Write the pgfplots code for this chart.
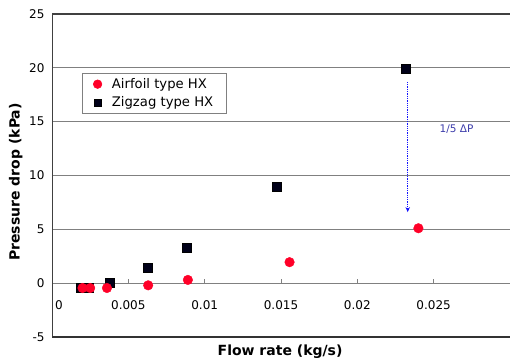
\documentclass[border=0pt]{standalone}
\usepackage{fontspec}
\setmainfont{DejaVu Sans}
\usepackage{pgfplots}
\pgfplotsset{compat=1.18}
\usetikzlibrary{arrows.meta}
\definecolor{airred}{RGB}{255,0,40}
\definecolor{zignavy}{RGB}{0,0,25}
\definecolor{gridgray}{RGB}{128,128,128}
\definecolor{bordergray}{RGB}{64,64,64}
\definecolor{annblue}{RGB}{60,60,170}
\definecolor{arrblue}{RGB}{20,20,255}
\begin{document}
\begin{tikzpicture}
\begin{axis}[
  at={(52pt,26pt)}, anchor=south west,
  scale only axis, width=458pt, height=323pt,
  xmin=0, xmax=0.03, ymin=-5, ymax=25,
  axis x line=middle, axis y line=left,
  axis line style={-, draw=gridgray, line width=0.8pt},
  y axis line style={draw=bordergray, line width=0.8pt},
  xtick={0.005,0.01,0.015,0.02,0.025},
  xticklabels={0.005,0.01,0.015,0.02,0.025},
  extra x ticks={0},
  extra x tick labels={0},
  extra x tick style={tick label style={xshift=7pt}, major tick length=0pt},
  ytick={-5,0,5,10,15,20,25},
  /pgf/number format/assume math mode=true,
  scaled x ticks=false,
  xtick align=inside,
  major tick length=4pt,
  x tick style={draw=gridgray, line width=0.8pt},
  y tick style={draw=none},
  ymajorgrids,
  y grid style={draw=gridgray, line width=0.8pt},
  xticklabel style={font=\fontsize{12}{14}\selectfont, yshift=-14pt, anchor=north},
  yticklabel style={font=\fontsize{12}{14}\selectfont, xshift=-2pt},
  xlabel={Flow rate (kg/s)},
  ylabel={Pressure drop (kPa)},
  label style={font=\fontsize{14}{16}\selectfont\bfseries},
  xlabel style={at={(axis description cs:0.498,-0.046)}, anchor=center},
  ylabel style={at={(axis description cs:-0.079,0.48)}, anchor=center, rotate=0},
  legend style={at={(axis description cs:0.0655,0.817)}, anchor=north west,
    draw=gridgray, line width=0.6pt, font=\fontsize{13.2}{15}\selectfont,
    inner xsep=11pt, inner ysep=3pt, row sep=3pt,
    /tikz/every odd column/.append style={column sep=8pt}},
  legend image code/.code={\draw[#1] plot coordinates {(0.25cm,0cm)};},
  legend image post style={mark size=4.3pt},
  legend cell align=left,
  reverse legend,
  clip=false,
]
\addplot[only marks, mark=square*, mark size=4.5pt, draw=black, fill=zignavy,
  legend image post style={mark size=3.7pt}]
  coordinates {(0.0019,-0.45) (0.0024,-0.45) (0.0038,0.0) (0.00627,1.4) (0.0088,3.25) (0.0147,9.0) (0.0232,19.9)};
\addlegendentry{Zigzag type HX\hspace{4pt}}
\addplot[only marks, mark=*, mark size=4.8pt, draw=airred, fill=airred]
  coordinates {(0.0020,-0.45) (0.0025,-0.45) (0.0036,-0.45) (0.0063,-0.2) (0.0089,0.3) (0.01556,1.95) (0.0240,5.1)};
\addlegendentry{Airfoil type HX\hspace{4pt}}
\draw[line width=2pt, draw=bordergray] (rel axis cs:0,1) -- (rel axis cs:1,1);
\draw[line width=1.6pt, draw=black!80] (rel axis cs:0,0) -- (rel axis cs:1,0);
\draw[arrblue, line width=1.5pt, dash pattern=on 1.3pt off 1pt, -{Stealth[length=5pt,width=4.5pt]}] (axis cs:0.0233,18.7) -- (axis cs:0.0233,6.6);
\node[annblue, font=\fontsize{10.5}{12}\selectfont] at (axis cs:0.0265,14.3) {1/5 ΔP};
\end{axis}
\pgfresetboundingbox
\path[use as bounding box] (0,0) rectangle (510pt,363pt);
\end{tikzpicture}
\end{document}
